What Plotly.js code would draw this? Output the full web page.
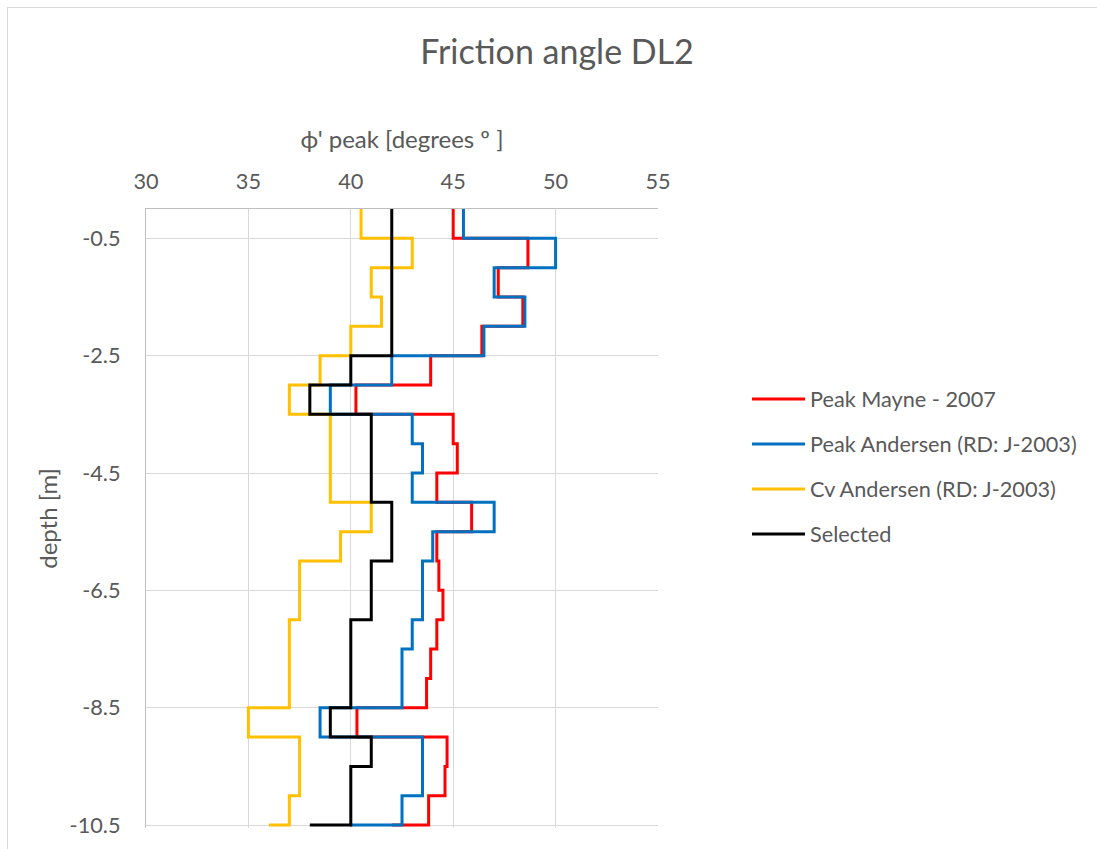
<!DOCTYPE html>
<html><head><meta charset="utf-8">
<script src="https://cdn.plot.ly/plotly-3.0.1.min.js"></script>
<style>
html,body{margin:0;padding:0;background:#fff;overflow:hidden;}
#chart{width:1097px;height:849px;}
#frame{position:absolute;left:7px;top:7px;width:1200px;height:1000px;border:1.5px solid #D9D9D9;pointer-events:none;}
</style>
</head><body>
<div id="chart"></div><div id="frame"></div>
<script>
// depth at the top of each 0.5 m layer (last entry = bottom of profile)
const depth = [0,-0.5,-1,-1.5,-2,-2.5,-3,-3.5,-4,-4.5,-5,-5.5,-6,-6.5,-7,-7.5,-8,-8.5,-9,-9.5,-10,-10.5];
const peakMayne = [45.0,48.65,47.2,48.4,46.4,43.9,40.25,45.0,45.2,44.2,45.9,44.2,44.3,44.5,44.2,43.9,43.7,40.3,44.7,44.6,43.8,42.0];
const peakAndersen = [45.5,50.0,47.0,48.5,46.5,42.0,39.0,43.0,43.5,43.0,47.0,44.0,43.5,43.5,43.0,42.5,42.5,38.5,43.5,43.5,42.5,40.0];
const cvAndersen = [40.5,43.0,41.0,41.5,40.0,38.5,37.0,39.0,39.0,39.0,41.0,39.5,37.5,37.5,37.0,37.0,37.0,35.0,37.5,37.5,37.0,36.0];
const selected = [42,42,42,42,42,40,38,41,41,41,42,42,41,41,40,40,40,39,41,40,40,38];

const seriesNames = ['Peak Mayne - 2007','Peak Andersen (RD: J-2003)','Cv Andersen (RD: J-2003)','Selected'];
const seriesColors = ['#FF0000','#0070C0','#FFC000','#000000'];
const seriesValues = [peakMayne, peakAndersen, cvAndersen, selected];

const xTickVals = [30,35,40,45,50,55];
const xTickText = ['30','35','40','45','50','55'];
const yTickVals = [-0.5,-2.5,-4.5,-6.5,-8.5,-10.5];
const yTickText = ['-0.5','-2.5','-4.5','-6.5','-8.5','-10.5'];

const FONT = 'Lato, "Open Sans", sans-serif';
const TXT = '#595959';

const traces = seriesValues.map((vals, i) => ({
  type: 'scatter',
  mode: 'lines',
  x: vals,
  y: depth,
  name: seriesNames[i],
  legendgroup: 'g' + i,
  line: {color: seriesColors[i], width: 3, shape: 'vh'},
  hoverinfo: 'x+y+name'
}));

const layout = {
  width: 1097, height: 849,
  paper_bgcolor: '#ffffff', plot_bgcolor: '#ffffff',
  margin: {l:146, r:439, t:209, b:21, pad:0},
  font: {family: FONT, color: TXT},
  title: {text: 'Friction angle DL2', font: {family: FONT, size: 34, color: TXT},
          xref: 'container', yref: 'container', x: 557/1097, xanchor: 'center', y: 1 - 52/849, yanchor: 'middle'},
  showlegend: true,
  legend: {x: (747-146)/512, xanchor: 'left', y: 0.7265, yanchor: 'top',
           font: {family: FONT, size: 21.7, color: TXT}, tracegroupgap: 13.8,
           traceorder: 'grouped', itemwidth: 53, bgcolor: 'rgba(0,0,0,0)'},
  xaxis: {side: 'top', range: [30,55], tickmode: 'array', tickvals: xTickVals, ticktext: xTickText,
          showgrid: true, gridcolor: '#D9D9D9', gridwidth: 1.3, zeroline: false,
          showline: true, linecolor: '#BFBFBF', linewidth: 1.3, ticks: '', ticklabelstandoff: 10,
          tickfont: {family: FONT, size: 21.7, color: TXT},
          title: {text: "ϕ' peak [degrees º ]", font: {family: FONT, size: 24, color: TXT}, standoff: 12},
          fixedrange: true},
  yaxis: {range: [-10.55, 0], tickmode: 'array', tickvals: yTickVals, ticktext: yTickText,
          showgrid: true, gridcolor: '#D9D9D9', gridwidth: 1.3, zeroline: false,
          showline: true, linecolor: '#BFBFBF', linewidth: 1.3, ticks: '', ticklabelstandoff: 20,
          tickfont: {family: FONT, size: 21.7, color: TXT},
          title: {text: 'depth [m]', font: {family: FONT, size: 24, color: TXT}, standoff: 5},
          fixedrange: true}
};

Plotly.newPlot('chart', traces, layout, {displayModeBar: false, responsive: false});
</script>
</body></html>
